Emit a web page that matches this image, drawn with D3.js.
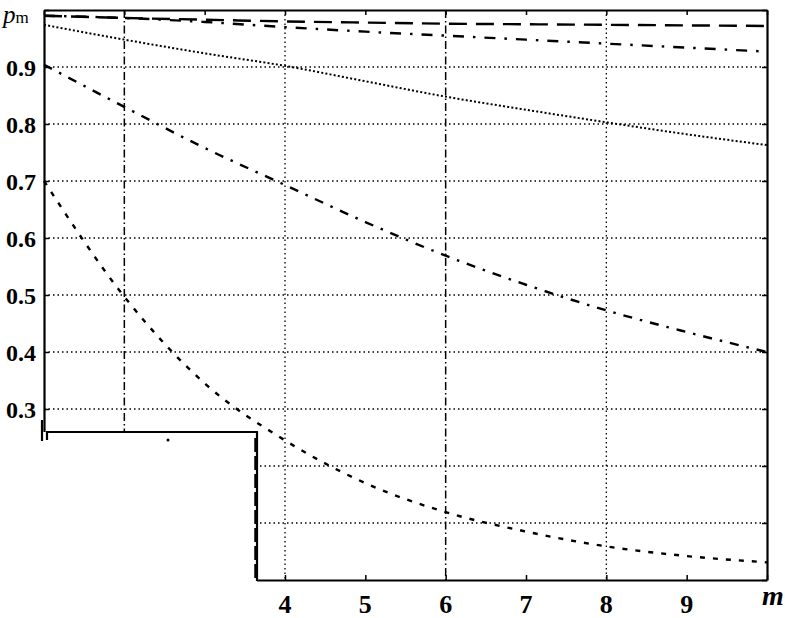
<!DOCTYPE html>
<html>
<head>
<meta charset="utf-8">
<script src="https://cdn.jsdelivr.net/npm/d3@7"></script>
<style>
  body { margin: 0; background: #fff; }
  svg { display: block; }
  text { font-family: "Liberation Serif", "DejaVu Serif", serif; fill: #000; }
</style>
</head>
<body>
<svg id="chart" width="785" height="618"></svg>
<script>
// data
var mValues = [1, 2, 3, 4, 5, 6, 7, 8, 9, 10];
var seriesLongDash = [0.990, 0.986, 0.983, 0.980, 0.978, 0.976, 0.975, 0.974, 0.973, 0.972];
var seriesDashDotTop = [0.990, 0.986, 0.979, 0.970, 0.962, 0.955, 0.948, 0.941, 0.934, 0.927];
var seriesDotted = [0.974, 0.948, 0.924, 0.902, 0.875, 0.848, 0.825, 0.803, 0.782, 0.763];
var seriesDashDot = [0.904, 0.830, 0.758, 0.693, 0.628, 0.569, 0.518, 0.473, 0.435, 0.400];
var seriesDashed = [0.700, 0.497, 0.345, 0.245, 0.170, 0.119, 0.085, 0.059, 0.042, 0.031];
var yTickLabels = [0.3, 0.4, 0.5, 0.6, 0.7, 0.8, 0.9];
var xTickLabels = [4, 5, 6, 7, 8, 9];
var yGrid = [0.1, 0.2, 0.3, 0.4, 0.5, 0.6, 0.7, 0.8, 0.9];
var xGrid = [2, 4, 6, 8];
var xMarkLines = [2, 6];

var svg = d3.select("#chart"),
    margin = {left: 44, right: 18, top: 10, bottom: 38},
    width = +svg.attr("width") - margin.left - margin.right,
    height = +svg.attr("height") - margin.top - margin.bottom;

var x = d3.scaleLinear().domain([1, 10]).range([0, width]),
    y = d3.scaleLinear().domain([0, 1]).range([height, 0]);

var g = svg.append("g").attr("transform", "translate(" + margin.left + "," + margin.top + ")");

// grid
g.selectAll(".hgrid").data(yGrid).enter().append("line")
  .attr("x1", 0).attr("x2", width)
  .attr("y1", function(d) { return y(d); }).attr("y2", function(d) { return y(d); })
  .attr("stroke", "#000").attr("stroke-width", 1.3).attr("stroke-dasharray", "1.5,3");
g.selectAll(".vgrid").data(xGrid.filter(function(d) { return xMarkLines.indexOf(d) < 0; })).enter().append("line")
  .attr("x1", function(d) { return x(d); }).attr("x2", function(d) { return x(d); })
  .attr("y1", 0).attr("y2", height)
  .attr("stroke", "#000").attr("stroke-width", 1.3).attr("stroke-dasharray", "1.5,3");
g.selectAll(".vmark").data(xMarkLines).enter().append("line")
  .attr("x1", function(d) { return x(d); }).attr("x2", function(d) { return x(d); })
  .attr("y1", 0).attr("y2", height)
  .attr("stroke", "#000").attr("stroke-width", 1.5).attr("stroke-dasharray", "8,3,1.5,3");

// curves
var line = d3.line()
  .x(function(d, i) { return x(mValues[i]); })
  .y(function(d) { return y(d); })
  .curve(d3.curveMonotoneX);

var series = [
  {v: seriesLongDash, dash: "18,9", w: 2.4},
  {v: seriesDashDotTop, dash: "11,9,2.5,9", w: 2.4},
  {v: seriesDotted, dash: "2,2.2", w: 2},
  {v: seriesDashDot, dash: "9,8,2.5,8", w: 2.4},
  {v: seriesDashed, dash: "5,8", w: 2.4}
];
g.selectAll(".curve").data(series).enter().append("path")
  .attr("d", function(d) { return line(d.v); })
  .attr("fill", "none").attr("stroke", "#000")
  .attr("stroke-width", function(d) { return d.w; })
  .attr("stroke-dasharray", function(d) { return d.dash; });

// axes frame with inward ticks
g.append("g").attr("transform", "translate(0," + height + ")")
  .call(d3.axisBottom(x).ticks(9).tickSizeInner(-5).tickSizeOuter(0).tickFormat(""));
g.append("g")
  .call(d3.axisTop(x).ticks(9).tickSizeInner(-5).tickSizeOuter(0).tickFormat(""));
g.append("g")
  .call(d3.axisLeft(y).ticks(10).tickSizeInner(-5).tickSizeOuter(0).tickFormat(""));
g.append("g").attr("transform", "translate(" + width + ",0)")
  .call(d3.axisRight(y).ticks(10).tickSizeInner(-5).tickSizeOuter(0).tickFormat(""));
g.selectAll(".domain").attr("stroke-width", 2.2);
g.selectAll(".tick line").attr("stroke-width", 1.5);

// tick labels
g.selectAll(".ylab").data(yTickLabels).enter().append("text")
  .attr("x", -8).attr("y", function(d) { return y(d) + 9; })
  .attr("text-anchor", "end").attr("font-size", 24).attr("font-weight", "bold")
  .text(function(d) { return d3.format(".1f")(d); });
g.selectAll(".xlab").data(xTickLabels).enter().append("text")
  .attr("x", function(d) { return x(d); }).attr("y", height + 33)
  .attr("text-anchor", "middle").attr("font-size", 26).attr("font-weight", "bold")
  .text(function(d) { return d; });

// axis titles
var pm = svg.append("text").attr("x", 3).attr("y", 23).attr("font-size", 25);
pm.append("tspan").attr("font-style", "italic").text("p");
pm.append("tspan").attr("font-size", 17).attr("dy", 0).text("m");
svg.append("text").attr("x", 762).attr("y", 605).attr("font-size", 28)
  .attr("font-style", "italic").attr("font-weight", "bold").text("m");

// blanked legend box in the lower left corner
svg.append("rect").attr("x", 0).attr("y", 432).attr("width", 257).attr("height", 186).attr("fill", "#fff");
svg.append("path")
  .attr("d", "M47,440 V432 H257 V581")
  .attr("fill", "none").attr("stroke", "#000").attr("stroke-width", 2.2);
svg.append("path")
  .attr("d", "M256,438 V580")
  .attr("fill", "none").attr("stroke", "#000").attr("stroke-width", 3.5).attr("stroke-dasharray", "14,4");
svg.append("line").attr("x1", 42).attr("x2", 42).attr("y1", 420).attr("y2", 441)
  .attr("stroke", "#000").attr("stroke-width", 2.2);
svg.append("circle").attr("cx", 168).attr("cy", 440).attr("r", 1.5).attr("fill", "#000");
</script>
</body>
</html>
